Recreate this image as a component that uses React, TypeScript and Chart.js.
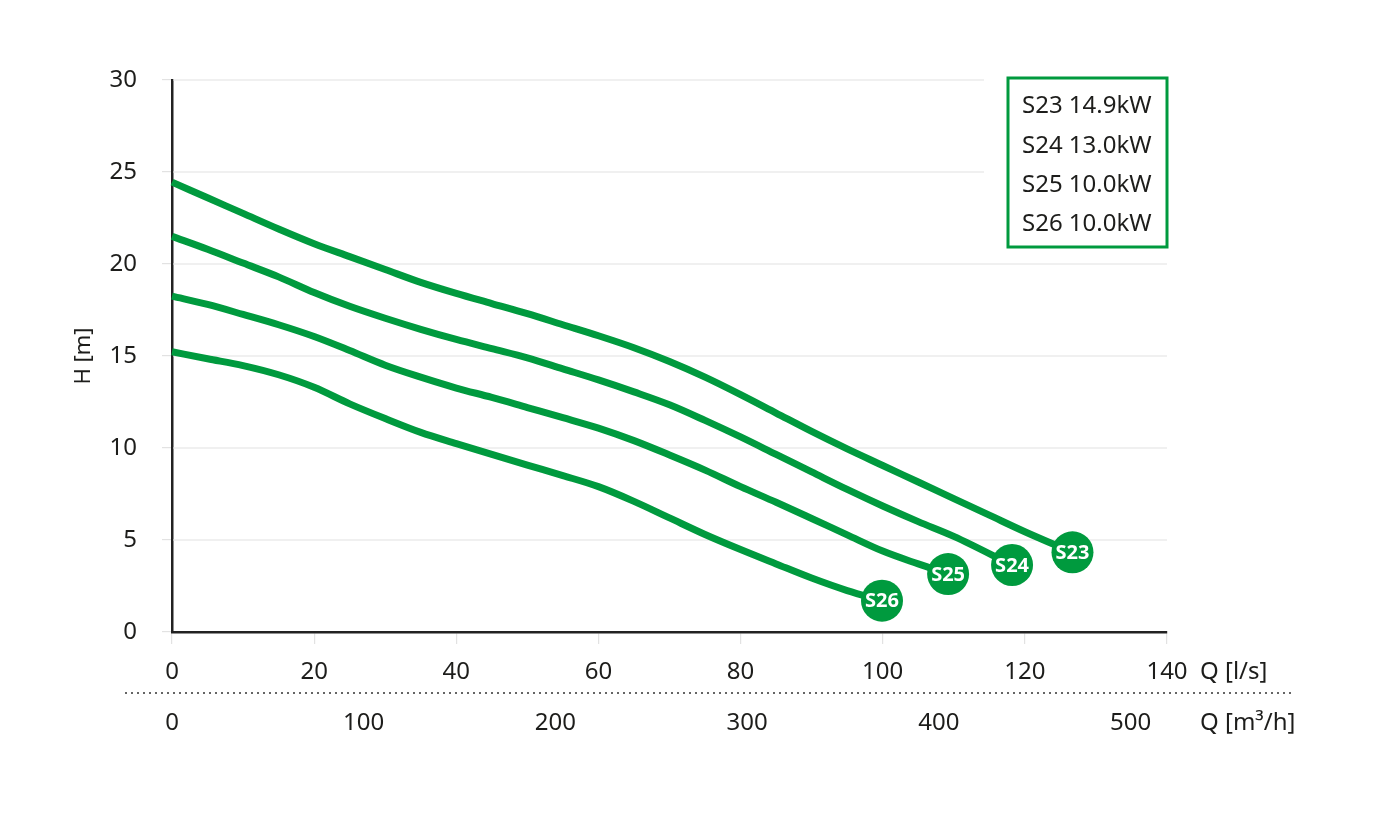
import React, { useEffect, useRef } from "react";
import { Chart, registerables } from "chart.js";

Chart.register(...registerables);

const GREEN = "#009A3E";
const TEXT = "#1d1d1b";
const GRID = "#e2e2e2";
const AXIS = "#222222";
const FONT = "'Noto Sans', sans-serif";

const pumpNames = ["S23", "S24", "S25", "S26"];
const legendLabels = ["S23 14.9kW", "S24 13.0kW", "S25 10.0kW", "S26 10.0kW"];

const flowS23 = [0, 5, 10, 15, 20, 25, 30, 35, 40, 45, 50, 55, 60, 65, 70, 75, 80, 85, 90, 95, 100, 105, 110, 115, 120, 126.7];
const headS23 = [24.45, 23.6, 22.75, 21.9, 21.1, 20.4, 19.7, 19.0, 18.4, 17.85, 17.3, 16.7, 16.1, 15.45, 14.7, 13.85, 12.9, 11.9, 10.9, 9.95, 9.05, 8.15, 7.25, 6.35, 5.45, 4.33];

const flowS24 = [0, 5, 10, 15, 20, 25, 30, 35, 40, 45, 50, 55, 60, 65, 70, 75, 80, 85, 90, 95, 100, 105, 110, 118.2];
const headS24 = [21.5, 20.8, 20.05, 19.3, 18.45, 17.7, 17.05, 16.45, 15.9, 15.4, 14.9, 14.3, 13.7, 13.05, 12.35, 11.5, 10.6, 9.65, 8.7, 7.75, 6.85, 6.0, 5.2, 3.64];

const flowS25 = [0, 5, 10, 15, 20, 25, 30, 35, 40, 45, 50, 55, 60, 65, 70, 75, 80, 85, 90, 95, 100, 105, 109.2];
const headS25 = [18.25, 17.8, 17.26, 16.7, 16.06, 15.3, 14.5, 13.85, 13.26, 12.75, 12.2, 11.65, 11.08, 10.4, 9.62, 8.8, 7.9, 7.05, 6.17, 5.28, 4.4, 3.7, 3.15];

const flowS26 = [0, 5, 10, 15, 20, 25, 30, 35, 40, 45, 50, 55, 60, 65, 70, 75, 80, 85, 90, 95, 99.9];
const headS26 = [15.23, 14.85, 14.48, 13.98, 13.3, 12.4, 11.6, 10.85, 10.24, 9.65, 9.07, 8.5, 7.9, 7.1, 6.2, 5.3, 4.48, 3.7, 2.93, 2.25, 1.7];

const flows = [flowS23, flowS24, flowS25, flowS26];
const heads = [headS23, headS24, headS25, headS26];

const headTicks = [0, 5, 10, 15, 20, 25, 30];
const flowLsTicks = [0, 20, 40, 60, 80, 100, 120, 140];
const flowM3hTicks = [0, 100, 200, 300, 400, 500];

const yTitle = "H [m]";
const xTitle = "Q [l/s]";
const x2Title = "Q [m³/h]";

const headMax = 30;
const flowLsMax = 140;
const flowM3hMax = 519;

const FS = 24;
const LH = FS * 1.2;

const overlayPlugin = {
  id: "overlay",
  beforeDatasetsDraw(chart: any) {
    const { ctx, chartArea, scales } = chart;
    const boxRight = chartArea.right;
    const boxLeft = boxRight - 159;
    const boxTop = chartArea.top - 2;
    const boxBottom = boxTop + 169;
    ctx.save();
    ctx.strokeStyle = GRID;
    ctx.lineWidth = 1.2;
    headTicks.forEach((v) => {
      if (v === 0) return;
      const y = scales.y.getPixelForValue(v);
      const endX = y >= boxTop - 2 && y <= boxBottom + 2 ? boxLeft - 24 : chartArea.right;
      ctx.beginPath();
      ctx.moveTo(chartArea.left + 1, y);
      ctx.lineTo(endX, y);
      ctx.stroke();
    });
    ctx.restore();
  },
  afterDatasetsDraw(chart: any) {
    const { ctx } = chart;
    ctx.save();
    ctx.fillStyle = "#ffffff";
    ctx.font = `bold 20px ${FONT}`;
    ctx.textAlign = "center";
    ctx.textBaseline = "middle";
    chart.data.datasets.forEach((ds: any, i: number) => {
      const meta = chart.getDatasetMeta(i);
      const pt = meta.data[meta.data.length - 1];
      ctx.fillText(pumpNames[i], pt.x, pt.y + 1);
    });
    ctx.restore();
  },
  afterDraw(chart: any) {
    const { ctx, chartArea, scales } = chart;
    ctx.save();
    const sepY = scales.x.bottom;
    ctx.strokeStyle = "#333333";
    ctx.lineWidth = 1.3;
    ctx.setLineDash([2, 4]);
    ctx.beginPath();
    ctx.moveTo(chartArea.left - 47, sepY);
    ctx.lineTo(chartArea.right + 126, sepY);
    ctx.stroke();
    ctx.setLineDash([]);

    ctx.fillStyle = TEXT;
    ctx.font = `${FS}px ${FONT}`;
    ctx.textAlign = "left";
    ctx.textBaseline = "middle";
    const xLabelY = scales.x.top + 12 + 14 + LH / 2;
    const x2LabelY = scales.x2.top + 16 + LH / 2;
    ctx.fillText(xTitle, chartArea.right + 33, xLabelY);
    ctx.fillText(x2Title, chartArea.right + 33, x2LabelY);

    const boxRight = chartArea.right;
    const boxLeft = boxRight - 159;
    const boxTop = chartArea.top - 2;
    ctx.fillStyle = "#ffffff";
    ctx.fillRect(boxLeft, boxTop, 159, 169);
    ctx.strokeStyle = GREEN;
    ctx.lineWidth = 3;
    ctx.strokeRect(boxLeft, boxTop, 159, 169);
    ctx.fillStyle = TEXT;
    legendLabels.forEach((t, i) => {
      ctx.fillText(t, boxLeft + 14, boxTop + 28.5 + i * 39.3);
    });
    ctx.restore();
  },
};

export default function App() {
  const canvasRef = useRef<HTMLCanvasElement | null>(null);

  useEffect(() => {
    document.body.style.margin = "0";
    const canvas = canvasRef.current;
    if (!canvas) return;
    const chart = new Chart(canvas, {
      type: "line",
      data: {
        datasets: pumpNames.map((name, i) => ({
          label: name,
          data: flows[i].map((q, j) => ({ x: q, y: heads[i][j] })),
          borderColor: GREEN,
          backgroundColor: GREEN,
          borderWidth: 7,
          borderCapStyle: "butt",
          borderJoinStyle: "round",
          cubicInterpolationMode: "monotone",
          pointRadius: (c: any) => (c.dataIndex === flows[i].length - 1 ? 21 : 0),
          pointHoverRadius: (c: any) => (c.dataIndex === flows[i].length - 1 ? 21 : 0),
          pointBackgroundColor: GREEN,
          pointBorderWidth: 0,
          fill: false,
          clip: false,
        })),
      },
      options: {
        responsive: false,
        animation: false,
        events: [],
        layout: { padding: { left: 0, right: 216, top: 80, bottom: 71 } },
        plugins: { legend: { display: false }, tooltip: { enabled: false } },
        scales: {
          x: {
            type: "linear",
            position: "bottom",
            min: 0,
            max: flowLsMax,
            afterBuildTicks: (s: any) => {
              s.ticks = flowLsTicks.map((v) => ({ value: v }));
            },
            afterFit: (s: any) => {
              s.height = 61;
            },
            grid: { display: true, drawOnChartArea: false, drawTicks: true, tickLength: 12, color: GRID, lineWidth: 1.2 },
            border: { display: true, color: AXIS, width: 2.5 },
            ticks: { color: TEXT, font: { family: FONT, size: FS }, padding: 14, maxRotation: 0 },
          },
          x2: {
            type: "linear",
            position: "bottom",
            min: 0,
            max: flowM3hMax,
            afterBuildTicks: (s: any) => {
              s.ticks = flowM3hTicks.map((v) => ({ value: v }));
            },
            afterFit: (s: any) => {
              s.height = 60;
            },
            grid: { display: false, drawTicks: false, tickLength: 0 },
            border: { display: false },
            ticks: { color: TEXT, font: { family: FONT, size: FS }, padding: 16, maxRotation: 0 },
          },
          y: {
            type: "linear",
            min: 0,
            max: headMax,
            afterBuildTicks: (s: any) => {
              s.ticks = headTicks.map((v) => ({ value: v }));
            },
            afterFit: (s: any) => {
              s.width = 172;
            },
            grid: { display: true, drawOnChartArea: false, drawTicks: true, tickLength: 10, color: GRID, lineWidth: 1.2 },
            border: { display: true, color: AXIS, width: 2.5 },
            ticks: { color: TEXT, font: { family: FONT, size: FS }, padding: 25 },
            title: {
              display: true,
              text: yTitle,
              color: TEXT,
              font: { family: FONT, size: 22 },
              padding: { top: 71, bottom: 0 },
            },
          },
        },
      },
      plugins: [overlayPlugin],
    } as any);
    return () => chart.destroy();
  }, []);

  return (
    <div style={{ position: "absolute", left: 0, top: 0, width: 1383, height: 824 }}>
      <canvas ref={canvasRef} width={1383} height={824} style={{ width: 1383, height: 824 }} />
    </div>
  );
}
